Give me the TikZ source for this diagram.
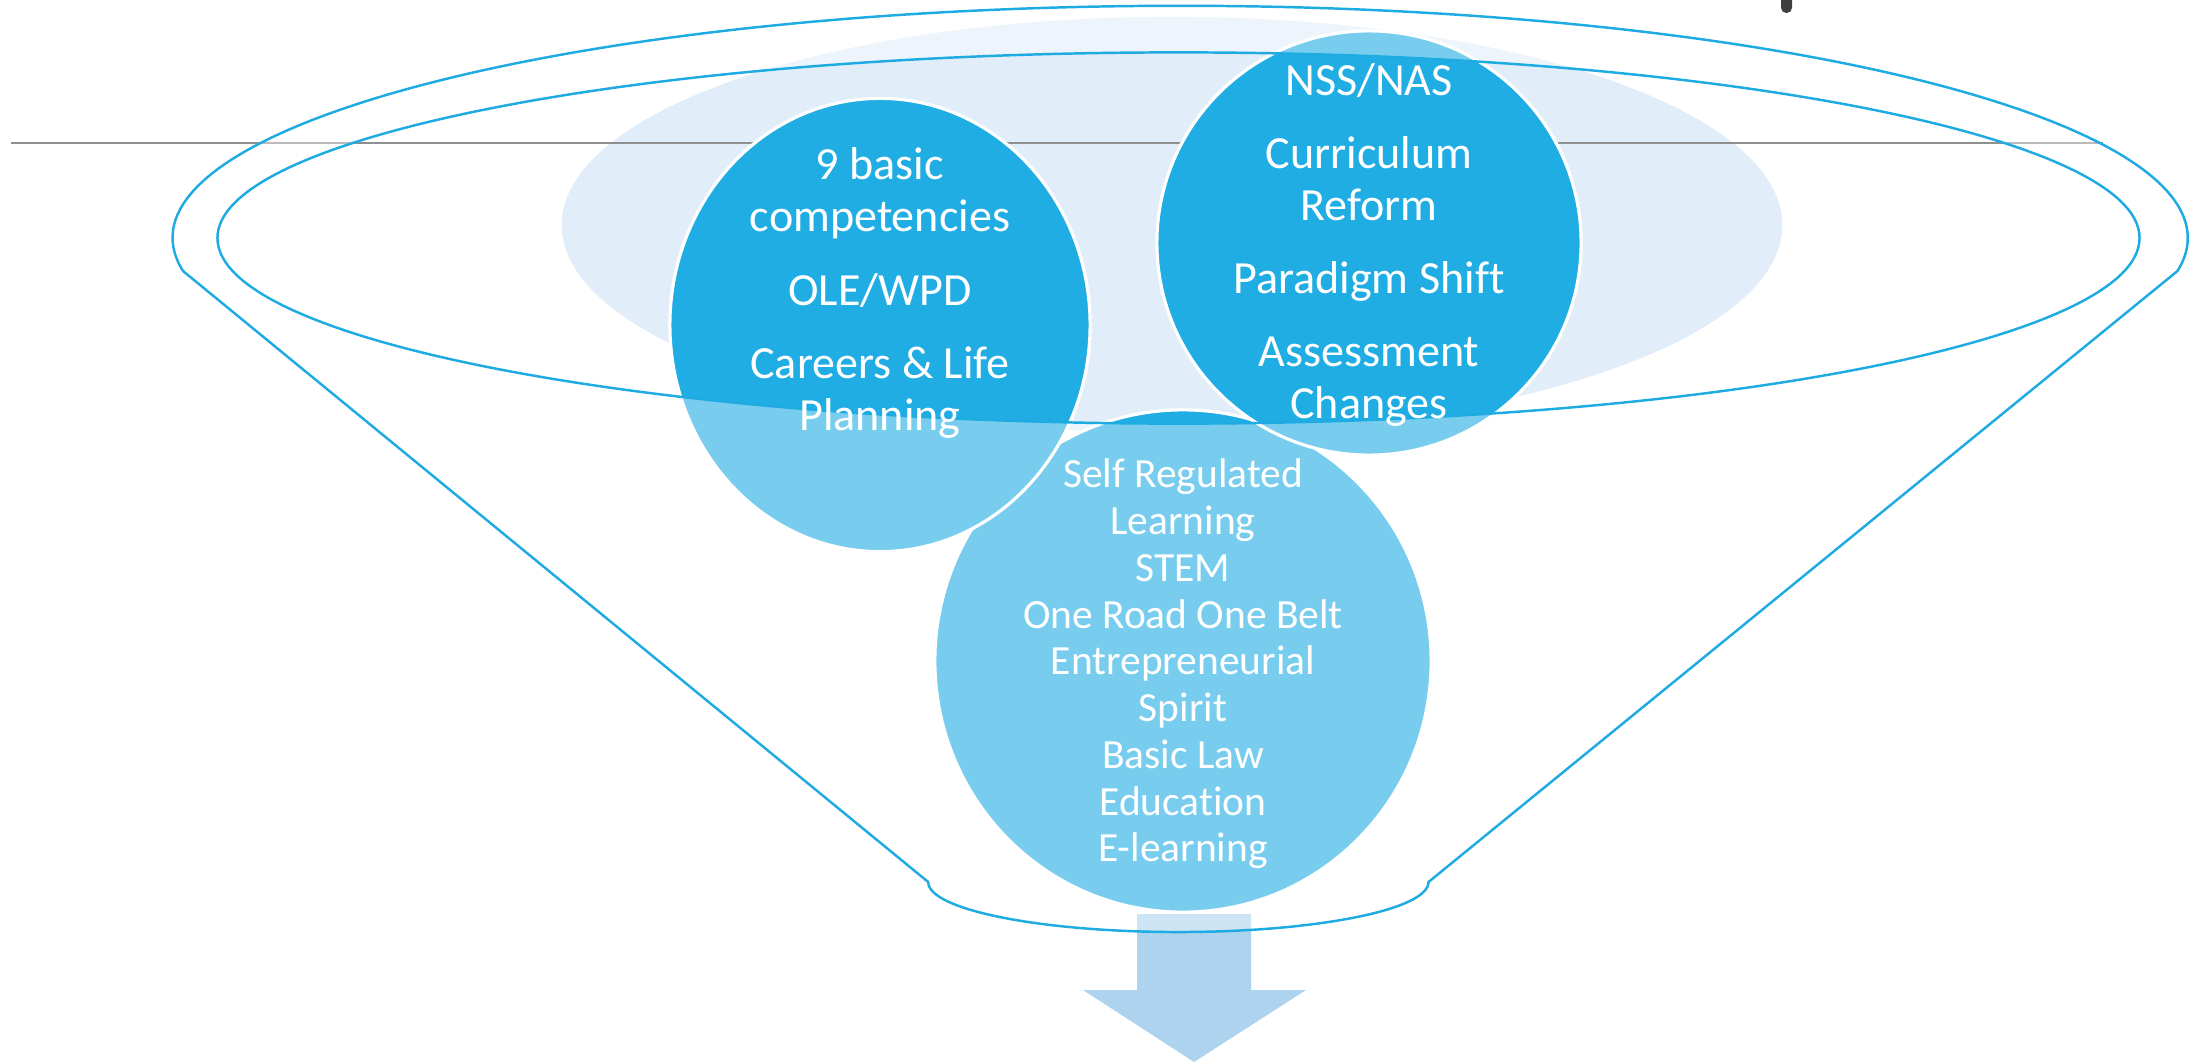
\documentclass[tikz,border=0pt]{standalone}
\usepackage{fontspec}
\setmainfont{Carlito}[Ligatures=NoCommon]
\usetikzlibrary{shapes.geometric, positioning}
\definecolor{funnelBlue}{HTML}{1EABE2}
\definecolor{bubbleBlue}{HTML}{1FADE4}
\definecolor{backBlue}{HTML}{E1EEF9}
\definecolor{arrowBlue}{HTML}{ADD3EF}
\definecolor{ruleGray}{HTML}{8F8F8F}
\definecolor{markGray}{HTML}{404040}

\begin{document}
\begin{tikzpicture}[
            x=0.01cm, y=0.01cm,
            bubble/.style={ellipse, draw=white, line width=0.9pt, fill=bubbleBlue, inner sep=0pt},
            bigtext/.style={align=center, text=white, font=\fontsize{13.1pt}{14.8pt}\selectfont},
            smalltext/.style={align=center, text=white, font=\fontsize{11.8pt}{13.3pt}\selectfont},
            funnelline/.style={draw=funnelBlue, line width=0.7pt},
        ]
            \useasboundingbox (0,0) rectangle (2202,1062);

            % Background
            \fill[backBlue] (1172,837) ellipse [x radius=6.10cm, y radius=2.08cm];
            \draw[ruleGray, line width=0.55pt] (11,919) -- (2103,919);
            \fill[markGray, rounded corners=1.5pt] (1781,1070) rectangle (1792,1049);

            % Nodes
            \node[bubble, minimum width=4.96cm, minimum height=5.02cm] (self) at (1183,401) {};
            \node[bubble, minimum width=4.20cm, minimum height=4.53cm] (basic) at (880,737) {};
            \node[bubble, minimum width=4.24cm, minimum height=4.24cm] (reform) at (1369,819) {};

            % Arrow
            \fill[arrowBlue] (1137,148) -- (1251,148) -- (1251,72) -- (1306,72) -- (1194,0)
                -- (1083,72) -- (1137,72) -- cycle;

            % Funnel
            \coordinate (rimL) at (183,791);
            \coordinate (neckR) at (1428.5,180);
            \coordinate (mouth) at (1178.5,824);
            \fill[white, fill opacity=0.4, even odd rule]
                (rimL) arc[start angle=188.2, end angle=-8.2, x radius=10.07cm, y radius=2.32cm]
                -- (neckR) arc[start angle=0, end angle=-180, x radius=2.5cm, y radius=0.5cm] -- cycle
                (mouth) ellipse [x radius=9.605cm, y radius=1.855cm];
            \draw[funnelline]
                (rimL) arc[start angle=188.2, end angle=-8.2, x radius=10.07cm, y radius=2.32cm]
                -- (neckR) arc[start angle=0, end angle=-180, x radius=2.5cm, y radius=0.5cm] -- cycle;
            \draw[funnelline] (mouth) ellipse [x radius=9.605cm, y radius=1.855cm];

            % Labels
            \node[bigtext] (basicText) at ([yshift=0.32cm]basic.center)
                {9 basic\\competencies\\[6pt]OLE/WPD\\[6pt]Careers \& Life\\Planning};
            \node[bigtext] (reformText) at ([yshift=-0.02cm]reform.center)
                {NSS/NAS\\[6pt]Curriculum\\Reform\\[6pt]Paradigm Shift\\[6pt]Assessment\\Changes};
            \node[smalltext] (selfText) at ([yshift=-0.03cm]self.center)
                {Self Regulated\\Learning\\STEM\\One Road One Belt\\Entrepreneurial\\Spirit\\Basic Law\\Education\\E-learning};

        \end{tikzpicture}
\end{document}
